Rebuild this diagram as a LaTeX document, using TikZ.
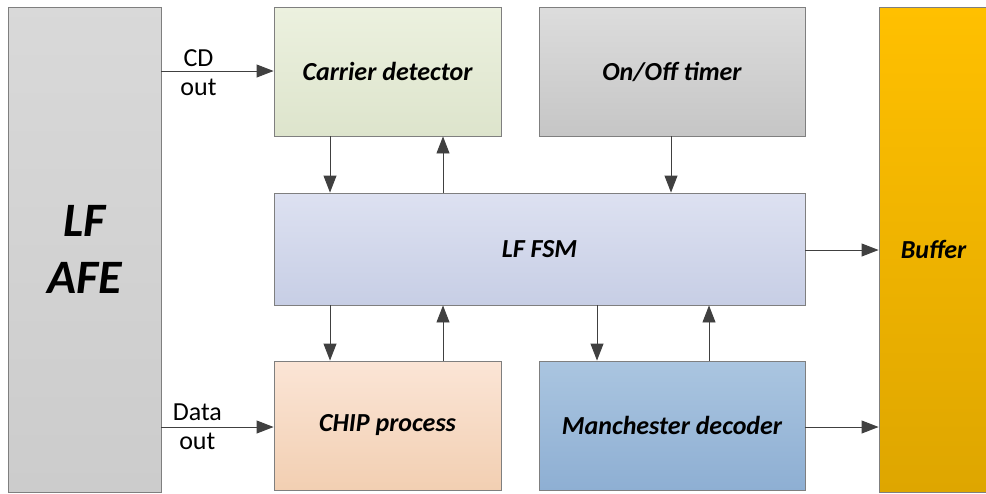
\documentclass[tikz,border=0pt]{standalone}
\usepackage{fontspec}
\setmainfont{Carlito}
\usepackage{tikz}
\usetikzlibrary{positioning,arrows.meta}

\definecolor{boxline}{HTML}{7F7F7F}
\definecolor{arrowgray}{HTML}{404040}

\begin{document}
\begin{tikzpicture}[x=1pt,y=-1pt,
  blk/.style={draw=boxline,line width=0.9pt,inner sep=0pt,
    font=\fontsize{26}{30}\selectfont\bfseries\itshape},
  arr/.style={draw=arrowgray,line width=0.9pt,
    -{Triangle[length=17pt,width=13pt]}},
  lbl/.style={font=\fontsize{26}{30}\selectfont,inner sep=0pt}]
  \useasboundingbox (0,0) rectangle (986,493);
  % blocks
  \node[blk,minimum width=153pt,minimum height=485pt,
    top color=gray!30,bottom color=gray!40,
    font=\fontsize{48}{57}\selectfont\bfseries\itshape,align=center]
    (afe) at (84.5,249.5) {LF\\AFE};
  \node[blk,minimum width=227pt,minimum height=129pt,
    top color={rgb,255:red,236;green,241;blue,223},
    bottom color={rgb,255:red,221;green,228;blue,204}]
    (carrier) at (387.5,71.5) {Carrier detector};
  \node[blk,minimum width=266pt,minimum height=129pt,
    top color=gray!27,bottom color=gray!45]
    (timer) at (672,71.5) {On/Off timer};
  \node[blk,minimum width=109pt,minimum height=485pt,
    top color={rgb,255:red,255;green,192;blue,0},
    bottom color={rgb,255:red,222;green,166;blue,0}]
    (buffer) at (933.5,249.5) {Buffer};
  \node[blk,minimum width=531pt,minimum height=112pt,
    top color={rgb,255:red,221;green,225;blue,241},
    bottom color={rgb,255:red,199;green,206;blue,229}]
    (fsm) at (539.5,249) {LF FSM};
  \node[blk,minimum width=227pt,minimum height=129pt,
    top color={rgb,255:red,251;green,229;blue,214},
    bottom color={rgb,255:red,242;green,207;blue,178}]
    (chip) at (387.5,425.5) {CHIP process};
  \node[blk,minimum width=266pt,minimum height=129pt,
    top color={rgb,255:red,170;green,197;blue,224},
    bottom color={rgb,255:red,142;green,175;blue,211}]
    (manch) at (672,425.5) {Manchester decoder};
  % connectors
  \draw[arr] (afe.east |- 0,71) -- (carrier.west |- 0,71)
    node[lbl,pos=0.33,above=4pt] {CD}
    node[lbl,pos=0.33,below=8pt] {out};
  \draw[arr] (afe.east |- 0,427) -- (chip.west |- 0,427)
    node[lbl,pos=0.32,above=6pt] {Data}
    node[lbl,pos=0.32,below=6pt] {out};
  \draw[arr] (carrier.south -| 330,0) -- (fsm.north -| 330,0);
  \draw[arr] (fsm.north -| 443,0) -- (carrier.south -| 443,0);
  \draw[arr] (timer.south -| 671,0) -- (fsm.north -| 671,0);
  \draw[arr] (fsm.east |- 0,250) -- (buffer.west |- 0,250);
  \draw[arr] (fsm.south -| 330,0) -- (chip.north -| 330,0);
  \draw[arr] (chip.north -| 443,0) -- (fsm.south -| 443,0);
  \draw[arr] (fsm.south -| 597,0) -- (manch.north -| 597,0);
  \draw[arr] (manch.north -| 709,0) -- (fsm.south -| 709,0);
  \draw[arr] (manch.east |- 0,427) -- (buffer.west |- 0,427);
\end{tikzpicture}
\end{document}
